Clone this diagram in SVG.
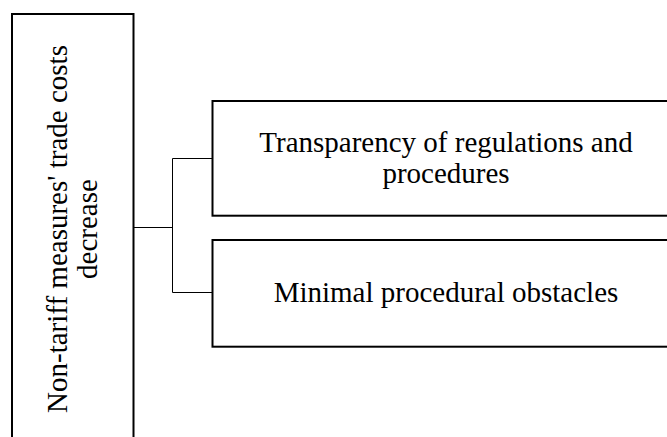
<svg xmlns="http://www.w3.org/2000/svg" width="667" height="437" viewBox="0 0 667 437">
<style>
.box{fill:#fff;stroke:#000;stroke-width:2}
.conn{fill:none;stroke:#000;stroke-width:1}
text{font-family:"Liberation Serif","Times New Roman",serif;font-size:29px;fill:#000;text-anchor:middle}
</style>
<rect width="667" height="437" fill="#fff"/>
<g id="connectors">
<path class="conn" d="M133.5 227.5 H172.5 M172.5 158.5 V292.5 M172.5 158.5 H212.5 M172.5 292.5 H212.5"/>
</g>
<g id="root">
<rect class="box" x="12" y="14" width="121.5" height="440"/>
<text transform="translate(0,229) rotate(-90)"><tspan x="0" y="66.5">Non-tariff measures' trade costs</tspan><tspan x="0" y="97">decrease</tspan></text>
</g>
<g id="transparency">
<rect class="box" x="212.5" y="101" width="470" height="114.7"/>
<text><tspan x="446" y="152">Transparency of regulations and</tspan><tspan x="446" y="183">procedures</tspan></text>
</g>
<g id="minimal">
<rect class="box" x="212.5" y="240" width="470" height="106.7"/>
<text x="446" y="302">Minimal procedural obstacles</text>
</g>
</svg>
